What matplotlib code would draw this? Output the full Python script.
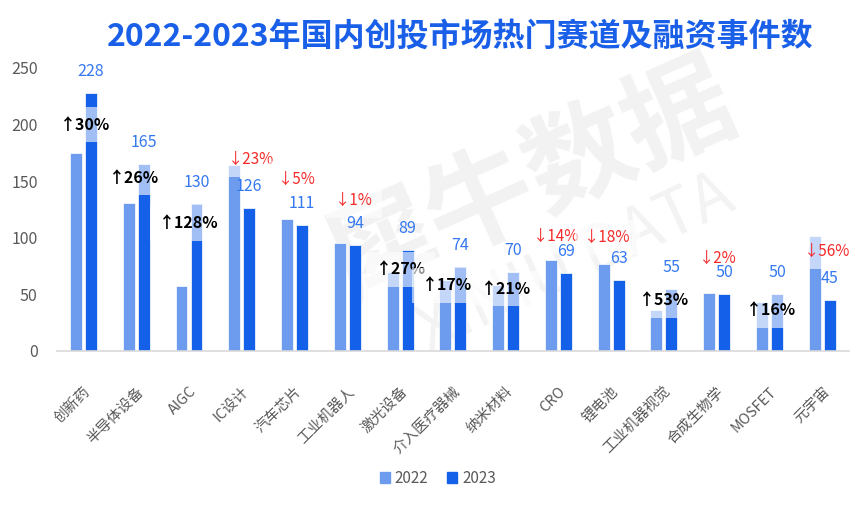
import numpy as np
import matplotlib.pyplot as plt
from matplotlib.patches import Patch

plt.rcParams['font.family'] = ['Noto Sans CJK SC', 'DejaVu Sans']

# 数据
categories = ['创新药', '半导体设备', 'AIGC', 'IC设计', '汽车芯片', '工业机器人', '激光设备',
              '介入医疗器械', '纳米材料', 'CRO', '锂电池', '工业机器视觉', '合成生物学', 'MOSFET', '元宇宙']
v2022 = [175, 131, 57, 164, 117, 95, 70, 63, 58, 80, 77, 36, 51, 43, 102]
v2023 = [228, 165, 130, 126, 111, 94, 89, 74, 70, 69, 63, 55, 50, 50, 45]
change = [30, 26, 128, -23, -5, -1, 27, 17, 21, -14, -18, 53, -2, 16, -56]

# 百分比标签的摆放位置（相对类别中心的偏移, y值）
pct_dx = [0.03, -0.04, 0.0, 0.17, 0.04, 0.12, 0.01, -0.12, 0.0, -0.05, -0.07, 0.0, 0.02, 0.02, 0.1]
pct_y = [200, 153, 113, 169, 152, 133, 72, 58, 55, 101, 100, 45, 82, 36, 88]

c22 = '#6D9CEE'
c23 = '#1560E8'
grey = '#595959'

fig = plt.figure(figsize=(8.65, 5.07), dpi=100)
ax = fig.add_axes([0.066, 0.3077, 0.915, 0.5583])

x = np.arange(len(categories))
off = 0.142
w = 0.227
ax.bar(x - off, v2022, w, color=c22, edgecolor='white', linewidth=0.5, zorder=2)
ax.bar(x + off, v2023, w, color=c23, edgecolor='white', linewidth=0.5, zorder=2)

# 水印
ax.text(0.615, 0.640, '犀牛数据', transform=fig.transFigure, rotation=24, fontsize=78,
        fontweight='heavy', color='#f2f2f2', ha='center', va='center', zorder=0.5)
ax.text(0.665, 0.480, 'XINIU DATA', transform=fig.transFigure, rotation=25, fontsize=46,
        color='#f3f3f3', ha='center', va='center', zorder=0.5)

# 2023 数值标签
for i, v in enumerate(v2023):
    ax.annotate(str(v), (i + off, v), xytext=(0, 15.5), textcoords='offset points',
                ha='center', va='center', fontsize=11.5, color='#3478F0', zorder=4)

# 同比变化
for i, c in enumerate(change):
    if c >= 0:
        txt, col, fw, fs = '↑' + str(c) + '%', 'black', 'bold', 11.5
    else:
        txt, col, fw, fs = '↓' + str(-c) + '%', '#F52A2A', 'normal', 11
    ax.text(i + pct_dx[i], pct_y[i], txt, ha='center', va='center', color=col,
            fontweight=fw, fontsize=fs, zorder=3,
            bbox=dict(boxstyle='square,pad=0.6', fc='white', ec='none', alpha=0.6))

ax.set_xlim(-0.5, len(categories) - 0.5)
ax.set_ylim(0, 250)
ax.set_yticks(range(0, 251, 50))
ax.set_xticks(x)
ax.set_xticklabels(categories, rotation=45, ha='right', rotation_mode='anchor')
ax.tick_params(axis='x', length=0, pad=24, labelsize=10.5, labelcolor=grey)
ax.tick_params(axis='y', length=0, pad=14, labelsize=11.5, labelcolor=grey)
for s in ['top', 'right', 'left']:
    ax.spines[s].set_visible(False)
ax.spines['bottom'].set_color('#d9d9d9')
ax.spines['bottom'].set_linewidth(1.2)
ax.patch.set_alpha(0)

fig.text(0.532, 0.927, '2022-2023年国内创投市场热门赛道及融资事件数', ha='center', va='center',
         fontsize=23, fontweight='bold', color='#1A5FE8')

handles = [Patch(color=c22, label='2022'), Patch(color=c23, label='2023')]
fig.legend(handles=handles, loc='center', bbox_to_anchor=(0.506, 0.057), ncol=2, frameon=False,
           fontsize=11, handlelength=0.7, handleheight=0.7, handletextpad=0.3,
           columnspacing=1.2, labelcolor=grey)

fig.savefig('out.png', dpi=100)
